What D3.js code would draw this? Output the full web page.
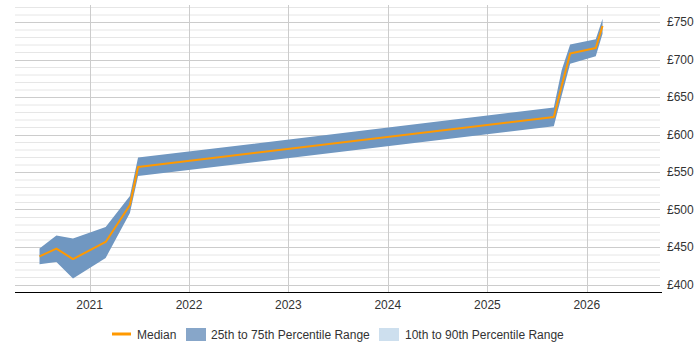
<!DOCTYPE html>
<html><head><meta charset="utf-8">
<script src="https://cdn.jsdelivr.net/npm/d3@7"></script>
<style>body{margin:0;background:#fff;} svg{display:block;font-family:"Liberation Sans",Arial,sans-serif;}</style>
</head><body>
<svg id="c" width="700" height="350"></svg>
<script>
const dates = ["2020-07-01","2020-09-01","2020-11-01","2021-03-01","2021-05-29","2021-06-28","2025-09-02","2025-10-01","2025-11-01","2026-02-03","2026-02-28"];
const median = [437.6,447.9,433.9,456.7,506,556.7,623.3,665,707.9,715.3,744.7];
const p25 = [427,430,407.9,435.4,495.3,544.7,610.9,652,694.5,704.3,734.5];
const p75 = [447.9,465.2,461.2,476.7,518,569.2,635.9,686,719.9,727,754.5];
const yearTicks = [2021,2022,2023,2024,2025,2026];
const yTickLabels = ["£400","£450","£500","£550","£600","£650","£700","£750"];
const yTickValues = [400,450,500,550,600,650,700,750];
const legendLabels = ["Median","25th to 75th Percentile Range","10th to 90th Percentile Range"];

const parse = d3.timeParse("%Y-%m-%d");
const data = dates.map((d,i)=>({date:parse(d), m:median[i], lo:p25[i], hi:p75[i]}));

const svg = d3.select("#c");
const x = d3.scaleTime().domain([parse("2020-04-02"), parse("2026-09-27")]).range([15,660]);
const y = d3.scaleLinear().domain([390,770]).range([292,7]);

// minor gridlines
const minor = d3.range(390,771,10).filter(v=>v%50!==0);
svg.append("g").selectAll("line").data(minor).join("line")
  .attr("x1",15).attr("x2",660).attr("y1",d=>y(d)+0.5).attr("y2",d=>y(d)+0.5)
  .attr("stroke","#e6e6e6").attr("stroke-width",1);
// major gridlines
svg.append("g").selectAll("line").data(yTickValues).join("line")
  .attr("x1",15).attr("x2",660).attr("y1",d=>Math.round(y(d))+0.5).attr("y2",d=>Math.round(y(d))+0.5)
  .attr("stroke","#cccccc").attr("stroke-width",1);
// vertical year gridlines
svg.append("g").selectAll("line").data(yearTicks).join("line")
  .attr("x1",d=>Math.round(x(new Date(d,0,1)))+0.5).attr("x2",d=>Math.round(x(new Date(d,0,1)))+0.5)
  .attr("y1",5).attr("y2",292).attr("stroke","#cccccc").attr("stroke-width",1);

// band
const area = d3.area().x(d=>x(d.date)).y0(d=>y(d.lo)).y1(d=>y(d.hi));
svg.append("path").datum(data).attr("d",area).attr("fill","#7097c1");
// median
const line = d3.line().x(d=>x(d.date)).y(d=>y(d.m));
svg.append("path").datum(data).attr("d",line).attr("fill","none")
  .attr("stroke","#ff9900").attr("stroke-width",2).attr("stroke-linejoin","round");

// x axis line
svg.append("line").attr("x1",15).attr("x2",662).attr("y1",292.5).attr("y2",292.5).attr("stroke","#000").attr("stroke-width",1);

// x labels
svg.append("g").selectAll("text").data(yearTicks).join("text")
  .attr("x",d=>x(new Date(d,0,1))).attr("y",309).attr("text-anchor","middle")
  .attr("font-size",12).attr("fill","#333").text(d=>d);
// y labels
svg.append("g").selectAll("text").data(yTickValues).join("text")
  .attr("x",667).attr("y",d=>y(d)+4).attr("font-size",12).attr("fill","#333")
  .text((d,i)=>yTickLabels[i]);

// legend
const lg = svg.append("g").attr("font-size",12).attr("fill","#333");
lg.append("line").attr("x1",112).attr("x2",131).attr("y1",334).attr("y2",334).attr("stroke","#ff9900").attr("stroke-width",3);
lg.append("text").attr("x",137).attr("y",338.5).text(legendLabels[0]).attr("fill","#333");
lg.append("rect").attr("x",186).attr("y",328).attr("width",20).attr("height",13).attr("fill","#87a6c9");
lg.append("text").attr("x",211).attr("y",338.5).text(legendLabels[1]).attr("fill","#333");
lg.append("rect").attr("x",379).attr("y",328).attr("width",20).attr("height",13).attr("fill","#cddfee");
lg.append("text").attr("x",405).attr("y",338.5).text(legendLabels[2]).attr("fill","#333");
</script>
</body></html>
